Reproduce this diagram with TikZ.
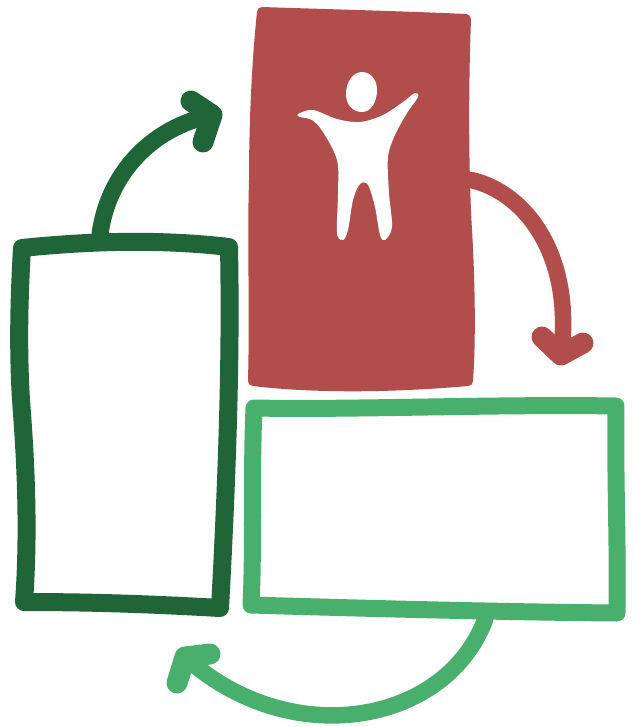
\documentclass[tikz,border=0pt]{standalone}
\usetikzlibrary{arrows.meta, positioning}

\definecolor{logoRed}{HTML}{B14D4B}
\definecolor{logoDark}{HTML}{206537}
\definecolor{logoLight}{HTML}{48B06C}

\begin{document}
\begin{tikzpicture}[
    x=0.02cm, y=-0.02cm,
    % Hand drawn outline of a box
    sketchbox/.style={line width=0.34cm, line join=round, line cap=round},
    % Curved arrows between the boxes
    sketcharrow/.style={line width=0.33cm, line cap=round},
    % Two strokes of an arrow head
    sketchhead/.style={line width=0.42cm, line cap=round, line join=round},
]
\useasboundingbox (0,0) rectangle (634,727);

% ============================================================
% RED BOX WITH FIGURE
% ============================================================
\filldraw[logoRed, line width=0.2cm, line join=round]
    (262,12) .. controls (320,14) and (400,16) .. (466,19)
    .. controls (463,100) and (464,180) .. (467,230)
    .. controls (470,280) and (471,340) .. (468,381)
    .. controls (400,387) and (320,389) .. (253,381)
    .. controls (255,300) and (252,250) .. (254,180)
    .. controls (254,120) and (257,60) .. (262,12) -- cycle;

% Figure
\fill[white] (362,72) .. controls (353,72) and (346,82) .. (346,94)
    .. controls (346,105) and (353,112) .. (362,112)
    .. controls (371,112) and (377,102) .. (377,90)
    .. controls (377,79) and (370,72) .. (362,72) -- cycle;
\fill[white] plot[smooth cycle, tension=0.55] coordinates {
    (298,114) (313,110) (337,119) (360,122) (383,115) (403,102) (415,93)
    (418,97) (407,113) (395,135) (388,157) (389,193) (392,227) (385,240)
    (380,235) (375,207) (368,185) (360,184) (353,200) (348,230) (343,240)
    (337,233) (338,193) (337,160) (323,132) (312,120) (300,117)};

% Arrow from red box
\coordinate (redstart) at (471,180);
\coordinate (redtip) at (561,355);
\draw[sketcharrow, logoRed] (redstart) .. controls (525,192) and (574,255) .. (redtip);
\draw[sketchhead, logoRed] (542,337) -- (redtip) -- (583,343);

% ============================================================
% DARK GREEN BOX
% ============================================================
\draw[sketchbox, line width=0.36cm, logoDark] (22,248)
    .. controls (90,241) and (160,239) .. (229,247)
    .. controls (231,350) and (228,460) .. (220,608)
    .. controls (150,604) and (90,602) .. (24,602)
    .. controls (30,520) and (24,440) .. (21,400)
    .. controls (18,350) and (19,300) .. (22,248) -- cycle;

% Arrow to red box
\coordinate (darkstart) at (100,234);
\coordinate (darktip) at (212,115);
\draw[sketcharrow, line width=0.34cm, logoDark] (darkstart) .. controls (108,175) and (150,128) .. (darktip);
\draw[sketchhead, logoDark] (191,101) -- (darktip) -- (203,142);

% ============================================================
% LIGHT GREEN BOX
% ============================================================
\draw[sketchbox, logoLight] (254,408)
    .. controls (350,410) and (500,404) .. (616,406)
    .. controls (615,480) and (618,540) .. (617,613)
    .. controls (500,612) and (350,608) .. (251,605)
    .. controls (254,540) and (251,480) .. (254,408) -- cycle;

% Arrow to dark green box
\coordinate (lightstart) at (485,620);
\coordinate (lighttip) at (185,657);
\draw[sketcharrow, logoLight] (lightstart) .. controls (445,725) and (290,752) .. (lighttip);
\draw[sketchhead, logoLight] (177,683) -- (lighttip) -- (210,654);

\end{tikzpicture}
\end{document}
